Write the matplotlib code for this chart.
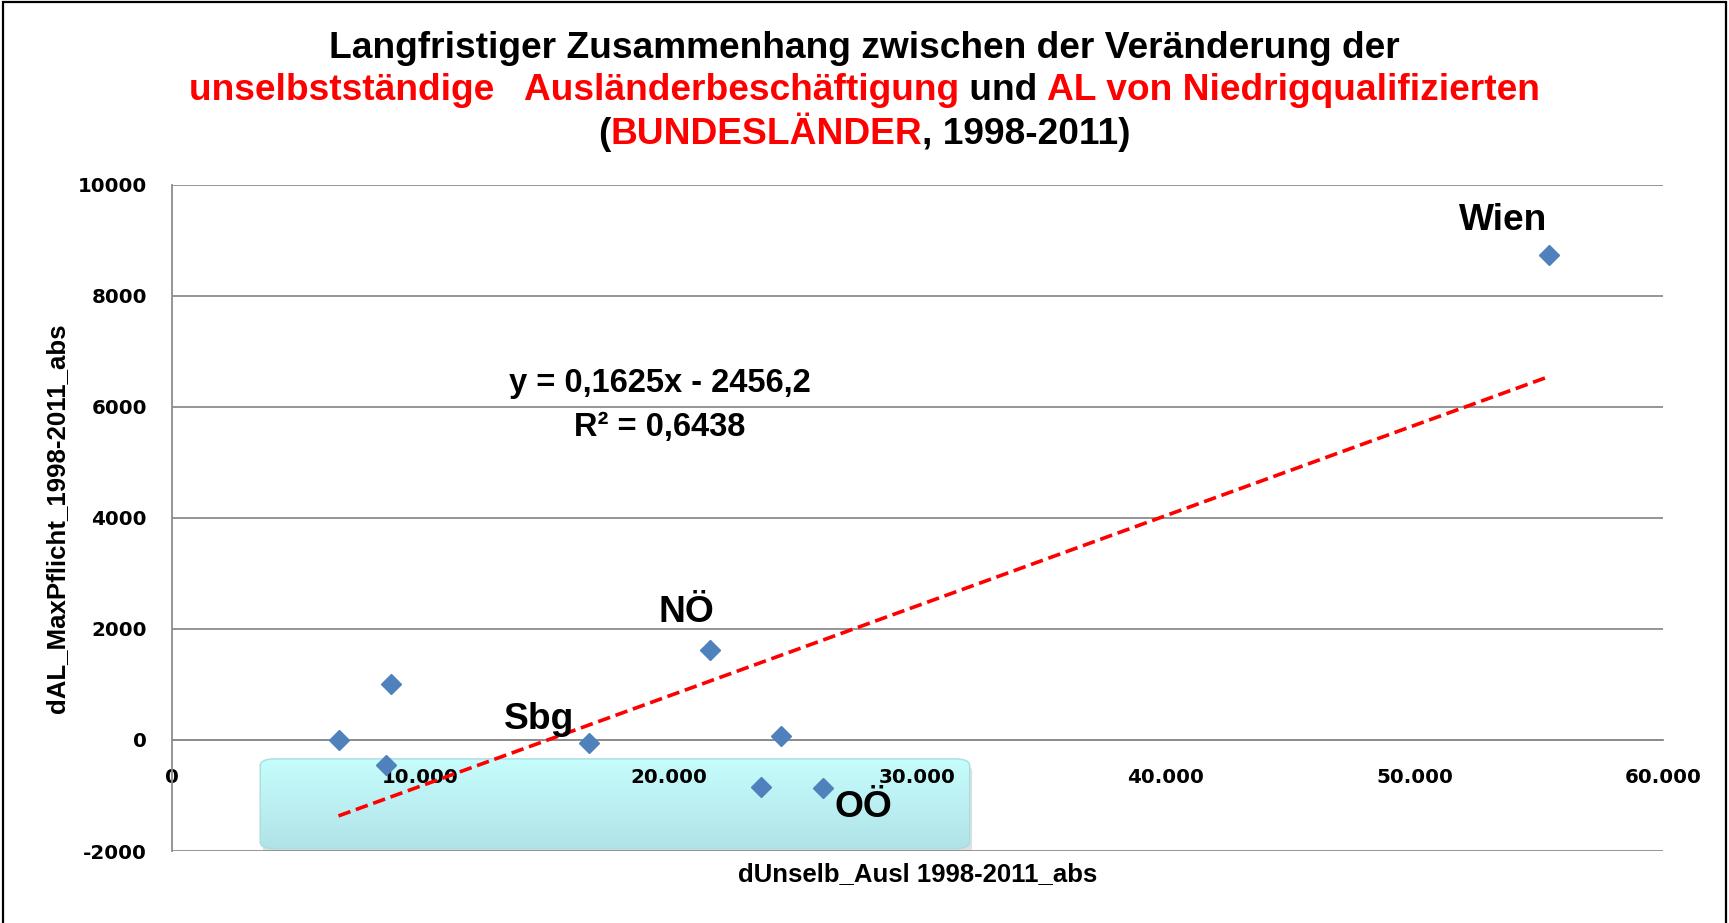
import numpy as np
import matplotlib
matplotlib.use("Agg")
import matplotlib.pyplot as plt
from matplotlib.patches import FancyBboxPatch, Rectangle
from matplotlib.ticker import FuncFormatter

plt.rcParams["axes.unicode_minus"] = False

# values (change 1998-2011, absolute)
d_unselb_ausl = [6700, 8800, 8600, 16800, 21650, 24500, 23700, 26200, 55400]
d_al_maxpflicht = [0, 1000, -450, -60, 1630, 80, -840, -860, 8730]

# labelled Bundeslaender: name, index of point, offset in points
point_labels = [("Wien", 8, (-33, 25)), ("NÖ", 4, (-17, 27)),
                ("Sbg", 3, (-36, 17)), ("OÖ", 7, (29, -14))]

# linear trend as printed on the chart
slope = 0.1625
intercept = -2456.2
r_squared = 0.6438

x_ticks = [0, 10000, 20000, 30000, 40000, 50000, 60000]
y_ticks = [-2000, 0, 2000, 4000, 6000, 8000, 10000]

RED = "#ff0000"
BLUE = "#4f81bd"
GRID = "#8c8c8c"
SANS = ["Liberation Sans", "DejaVu Sans"]

fig = plt.figure(figsize=(17.29, 9.23), dpi=100)
ax = fig.add_axes([0.0995, 0.078, 0.8623, 0.7216])
ax.set_xlim(0, 60000)
ax.set_ylim(-2000, 10000)

# grid and axes
ax.set_yticks(y_ticks)
ax.set_xticks(x_ticks)
ax.grid(axis="y", color=GRID, lw=1.3)
ax.set_axisbelow(True)
for s in ["top", "right"]:
    ax.spines[s].set_visible(False)
ax.spines["left"].set_color(GRID)
ax.spines["left"].set_linewidth(1.3)
ax.spines["bottom"].set_position(("data", 0))
ax.spines["bottom"].set_color(GRID)
ax.spines["bottom"].set_linewidth(1.3)
ax.tick_params(length=0)
ax.tick_params(axis="y", pad=18)
ax.tick_params(axis="x", pad=20)
ax.xaxis.set_major_formatter(FuncFormatter(lambda v, p: f"{int(v):,}".replace(",", ".")))
for lab in ax.get_xticklabels() + ax.get_yticklabels():
    lab.set_fontfamily("DejaVu Sans")
    lab.set_fontweight("bold")
    lab.set_fontsize(14.3)

# cyan rounded box behind the data (below grid/tick labels)
box = FancyBboxPatch((3550, -1960), 28550, 1620, boxstyle="round,pad=0,rounding_size=600",
                     mutation_aspect=0.2, fc="none", ec="#a8dde0", lw=1, zorder=0.35)
shadow = FancyBboxPatch((3650, -2060), 28550, 1620, boxstyle="round,pad=0,rounding_size=600",
                        mutation_aspect=0.2, fc="#000000", ec="none", alpha=0.12, zorder=0.2)
ax.add_patch(shadow)
ax.add_patch(box)
grad = np.linspace(0, 1, 256).reshape(-1, 1)
top_c = np.array([0.78, 0.99, 0.99])
bot_c = np.array([0.69, 0.89, 0.91])
img = top_c * (1 - grad[..., None]) + bot_c * grad[..., None]
im = ax.imshow(img, extent=(3550, 32100, -1960, -340), aspect="auto", zorder=0.3, origin="upper")
im.set_clip_path(box)
ax.set_xlim(0, 60000)
ax.set_ylim(-2000, 10000)

# trend line over the data range
xs = np.array([min(d_unselb_ausl), max(d_unselb_ausl)])
ax.plot(xs, slope * xs + intercept, color=RED, lw=2.6, ls=(0, (3.5, 1.6)), zorder=3)

ax.plot(d_unselb_ausl, d_al_maxpflicht, "D", color=BLUE, ms=10, mec=BLUE, zorder=4)

for name, i, off in point_labels:
    ax.annotate(name, (d_unselb_ausl[i], d_al_maxpflicht[i]), xytext=off,
                textcoords="offset points", ha="center", va="center",
                fontsize=26.7, fontweight="bold", family=SANS, zorder=5)

eq = f"y = {slope:.4f}x - {abs(intercept):.1f}".replace(".", ",")
ax.text(0.327, 0.702, eq, transform=ax.transAxes, ha="center", va="center",
        fontsize=23.5, fontweight="bold", family=SANS)
ax.text(0.327, 0.636, f"R² = {r_squared:.4f}".replace(".", ","), transform=ax.transAxes,
        ha="center", va="center", fontsize=23.5, fontweight="bold", family=SANS)

fig.text(0.531, 1 - 874 / 923, "dUnselb_Ausl 1998-2011_abs", ha="center", va="center",
         fontsize=18.5, fontweight="bold", family=SANS)
fig.text(57 / 1729, 1 - 518 / 923, "dAL_MaxPflicht_1998-2011_abs", ha="center", va="center",
         rotation=90, fontsize=18.6, fontweight="bold", family=SANS)

# multi-coloured title
renderer = fig.canvas.get_renderer()


def text_width(s, size):
    t = fig.text(0, 0, "|" + s + "|", fontsize=size, fontweight="bold", family=SANS)
    b = fig.text(0, 0, "||", fontsize=size, fontweight="bold", family=SANS)
    w = t.get_window_extent(renderer).width - b.get_window_extent(renderer).width
    t.remove()
    b.remove()
    return w


def colored_line(y, parts, size):
    widths = [text_width(s, size) for s, c in parts]
    x = (fig.bbox.width - sum(widths)) / 2
    for (s, c), w in zip(parts, widths):
        fig.text(x / fig.bbox.width, y, s, color=c, fontsize=size, fontweight="bold",
                 family=SANS, va="center", ha="left")
        x += w


title_size = 26.7
colored_line(1 - 49 / 923, [("Langfristiger Zusammenhang zwischen der Veränderung der", "black")], title_size)
colored_line(1 - 91 / 923, [("unselbstständige   Ausländerbeschäftigung", RED), (" und ", "black"),
                            ("AL von Niedrigqualifizierten", RED)], title_size)
colored_line(1 - 134 / 923, [("(", "black"), ("BUNDESLÄNDER", RED), (", 1998-2011)", "black")], title_size)

# frame around the whole chart
fig.patches.append(Rectangle((0.0015, -0.01), 0.997, 1.0075, transform=fig.transFigure,
                             fill=False, ec="black", lw=1.6))

fig.savefig("out.png", dpi=100)
